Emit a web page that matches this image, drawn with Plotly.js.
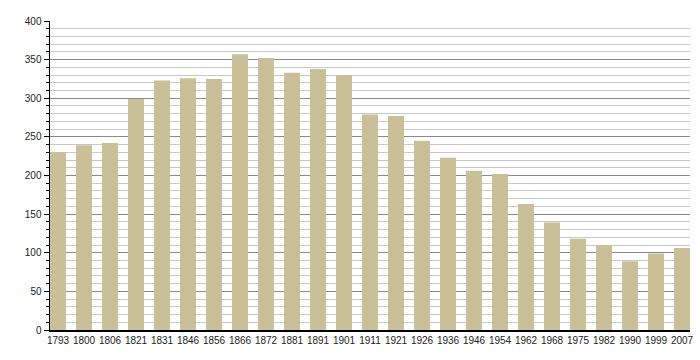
<!DOCTYPE html>
<html>
<head>
<meta charset="utf-8">
<script src="https://cdn.plot.ly/plotly-3.0.1.min.js"></script>
<style>html,body{margin:0;padding:0;background:#fff;}#chart{width:700px;height:360px;}</style>
</head>
<body>
<div id="chart"></div>
<script>
const years = ["1793","1800","1806","1821","1831","1846","1856","1866","1872","1881","1891","1901","1911","1921","1926","1936","1946","1954","1962","1968","1975","1982","1990","1999","2007"];
const population = [230,239,242,299,323,326,325,357,352,333,338,330,279,277,245,223,206,202,163,139,118,110,89,99,106];
const yTicks = [0,50,100,150,200,250,300,350,400];

const barFrac = 16/26;
const trace = {
  type: 'bar',
  x: years,
  y: population,
  marker: {color: '#c9bf98', line: {width: 0}},
  hoverinfo: 'x+y'
};

const layout = {
  width: 700, height: 360,
  margin: {l: 50, r: 10, t: 21, b: 30},
  paper_bgcolor: '#ffffff',
  plot_bgcolor: '#ffffff',
  bargap: 1 - barFrac,
  showlegend: false,
  font: {family: 'Liberation Sans, Arial, sans-serif', size: 10, color: '#222'},
  xaxis: {
    type: 'category',
    range: [-barFrac/2, years.length - 1 + barFrac/2],
    showline: true, linecolor: '#000', linewidth: 1.5,
    ticks: '', showgrid: false,
    tickangle: 0,
    tickfont: {size: 10},
    fixedrange: true
  },
  yaxis: {
    range: [0, 400],
    tickvals: yTicks,
    ticktext: yTicks.map(String),
    showline: true, linecolor: '#000', linewidth: 1.5,
    ticks: 'outside', ticklen: 5, tickcolor: '#000', tickwidth: 1,
    showgrid: true, gridcolor: '#8a8a8a', gridwidth: 1,
    zeroline: false,
    tickfont: {size: 10},
    minor: {dtick: 10, tick0: 0, showgrid: true, gridcolor: '#c8c8c8', gridwidth: 1, ticks: 'outside', ticklen: 3, tickcolor: '#000'},
    fixedrange: true
  }
};

Plotly.newPlot('chart', [trace], layout, {displayModeBar: false, staticPlot: true});
</script>
</body>
</html>
